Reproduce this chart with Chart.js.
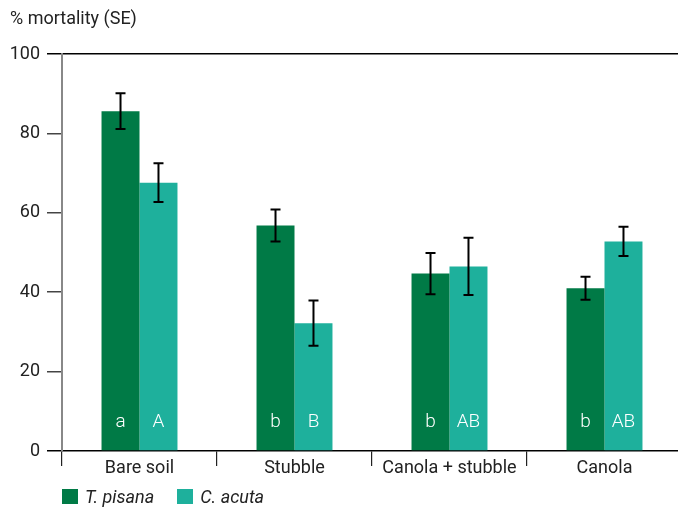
<!DOCTYPE html>
<html>
<head>
<meta charset="utf-8">
<script src="https://cdn.jsdelivr.net/npm/chart.js@4"></script>
<style>
  html, body { margin: 0; padding: 0; background: #fff; overflow: hidden; }
  #wrap { position: relative; width: 682px; height: 508px; }
  #title { position: absolute; left: 10px; top: 7px; font: 18px Roboto, sans-serif; color: #222; white-space: nowrap; }
  #legend { position: absolute; left: 62px; top: 486px; font: italic 18px Roboto, sans-serif; color: #222; display: flex; align-items: center; white-space: nowrap; }
  .sw { display: inline-block; width: 16px; height: 15px; margin-right: 7px; }
  .item { display: flex; align-items: center; margin-right: 23px; }
</style>
</head>
<body>
<div id="wrap">
  <canvas id="c" width="682" height="508"></canvas>
  <div id="title">% mortality (SE)</div>
  <div id="legend"></div>
</div>
<script>
const categories = ['Bare soil', 'Stubble', 'Canola + stubble', 'Canola'];
const seriesNames = ['T. pisana', 'C. acuta'];
const tPisana = [85.6, 56.8, 44.7, 41.0];
const tPisanaSE = [4.5, 4.0, 5.2, 2.9];
const cAcuta = [67.6, 32.2, 46.5, 52.8];
const cAcutaSE = [4.9, 5.7, 7.2, 3.7];
const tPisanaLetters = ['a', 'b', 'b', 'b'];
const cAcutaLetters = ['A', 'B', 'AB', 'AB'];
const yTicks = [0, 20, 40, 60, 80, 100];

const colors = ['#007A46', '#1EB09C'];
const seList = [tPisanaSE, cAcutaSE];
const letterList = [tPisanaLetters, cAcutaLetters];

const legend = document.getElementById('legend');
seriesNames.forEach((n, i) => {
  const it = document.createElement('div');
  it.className = 'item';
  const sw = document.createElement('span');
  sw.className = 'sw';
  sw.style.background = colors[i];
  const tx = document.createElement('span');
  tx.textContent = n;
  it.appendChild(sw); it.appendChild(tx);
  legend.appendChild(it);
});

const errorPlugin = {
  id: 'errorBars',
  afterDatasetsDraw(chart) {
    const ctx = chart.ctx;
    const y = chart.scales.y;
    chart.data.datasets.forEach((ds, di) => {
      const meta = chart.getDatasetMeta(di);
      meta.data.forEach((bar, i) => {
        const v = ds.data[i];
        const se = seList[di][i];
        const x = bar.x;
        const yt = y.getPixelForValue(v + se);
        const yb = y.getPixelForValue(v - se);
        ctx.save();
        ctx.strokeStyle = '#000';
        ctx.lineWidth = 2;
        ctx.beginPath();
        ctx.moveTo(x, yt); ctx.lineTo(x, yb);
        ctx.moveTo(x - 5, yt); ctx.lineTo(x + 5, yt);
        ctx.moveTo(x - 5, yb); ctx.lineTo(x + 5, yb);
        ctx.stroke();
        ctx.fillStyle = '#fff';
        ctx.font = '300 19px Roboto, sans-serif';
        ctx.textAlign = 'center';
        ctx.textBaseline = 'middle';
        ctx.fillText(letterList[di][i], x, y.getPixelForValue(0) - 29);
        ctx.restore();
      });
    });
  }
};

new Chart(document.getElementById('c'), {
  type: 'bar',
  data: {
    labels: categories,
    datasets: [
      { label: seriesNames[0], data: tPisana, backgroundColor: colors[0], barPercentage: 1, categoryPercentage: 0.49 },
      { label: seriesNames[1], data: cAcuta, backgroundColor: colors[1], barPercentage: 1, categoryPercentage: 0.49 }
    ]
  },
  options: {
    responsive: false,
    animation: false,
    layout: { padding: { top: 54, left: 0, right: 0, bottom: 0 } },
    plugins: { legend: { display: false }, tooltip: { enabled: false } },
    scales: {
      x: {
        afterFit(s) { s.height = 57; },
        grid: { offset: true, drawOnChartArea: false, tickLength: 15, color: '#222', lineWidth: 1.2 },
        border: { display: true, color: '#000', width: 1.5 },
        ticks: { padding: -8, color: '#222', font: { family: 'Roboto', size: 18 } }
      },
      y: {
        min: 0, max: 100,
        afterFit(s) { s.width = 62; },
        afterBuildTicks(s) { s.ticks = yTicks.map(v => ({ value: v })); },
        grid: {
          drawOnChartArea: true,
          color: c => (c.tick && c.tick.value === 100) ? '#000' : 'rgba(0,0,0,0)',
          tickColor: c => (c.tick && (c.tick.value === 100 || c.tick.value === 0)) ? '#000' : '#444',
          lineWidth: 1.5,
          tickLength: 15
        },
        border: { display: true, color: '#888', width: 2 },
        ticks: { padding: 7, color: '#222', font: { family: 'Roboto', size: 18 } }
      }
    }
  },
  plugins: [errorPlugin]
});
</script>
</body>
</html>
